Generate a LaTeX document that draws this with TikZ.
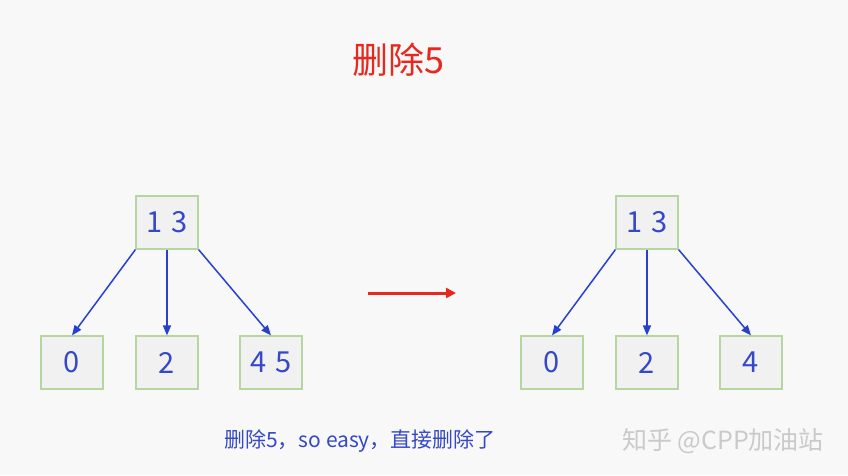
\documentclass[tikz,border=0pt]{standalone}
\usepackage{fontspec}
\setmainfont{Noto Sans CJK SC}
\newfontfamily\cjk{Noto Sans CJK SC}
\usetikzlibrary{arrows.meta}
\definecolor{bg}{HTML}{F8F8F8}
\definecolor{boxfill}{HTML}{F1F1F1}
\definecolor{boxline}{HTML}{B5D6A0}
\definecolor{txtblue}{HTML}{3448C8}
\definecolor{arrblue}{HTML}{2840D0}
\definecolor{redc}{HTML}{E8281E}
\definecolor{wm}{HTML}{CACACA}
\tikzset{
  keybox/.style={draw=boxline, fill=boxfill, line width=1.2pt, minimum width=62pt, minimum height=53pt, inner sep=0pt, text=txtblue, font=\fontsize{29}{29}\selectfont},
  link/.style={draw=arrblue, line width=1.5pt, -{Triangle[length=10pt,width=8pt]}},
}
\begin{document}
\begin{tikzpicture}[x=1pt,y=-1pt]
\fill[bg] (0,0) rectangle (848,475);
\useasboundingbox (0,0) rectangle (848,475);
\node[text=redc, font=\fontsize{36}{36}\selectfont] (title) at (398,60) {删除5};
% left tree
\node[keybox] (L) at (167,222.5) {1\,\,3};
\node[keybox] (L0) at (72,362.5) {0};
\node[keybox] (L1) at (167,362.5) {2};
\node[keybox] (L2) at (271,362.5) {4\,\,5};
\draw[link] (L.south west) -- (L0.north);
\draw[link] (L.south) -- (L1.north);
\draw[link] (L.south east) -- (L2.north);
% right tree
\node[keybox] (R) at (647,222.5) {1\,\,3};
\node[keybox] (R0) at (552,362.5) {0};
\node[keybox] (R1) at (647,362.5) {2};
\node[keybox] (R2) at (751,362.5) {4};
\draw[link] (R.south west) -- (R0.north);
\draw[link] (R.south) -- (R1.north);
\draw[link] (R.south east) -- (R2.north);
% transition arrow
\coordinate (a1) at (368,293);
\coordinate (a2) at (456,293);
\draw[redc, line width=3pt, -{Triangle[length=10pt,width=10pt]}] (a1) -- (a2);
\node[text=txtblue, font=\fontsize{21}{21}\selectfont] (cap) at (360,441) {删除5，so easy，直接删除了};
\node[text=wm, font=\fontsize{25}{25}\selectfont] (mark) at (723,441) {知乎 @CPP加油站};
\end{tikzpicture}
\end{document}
